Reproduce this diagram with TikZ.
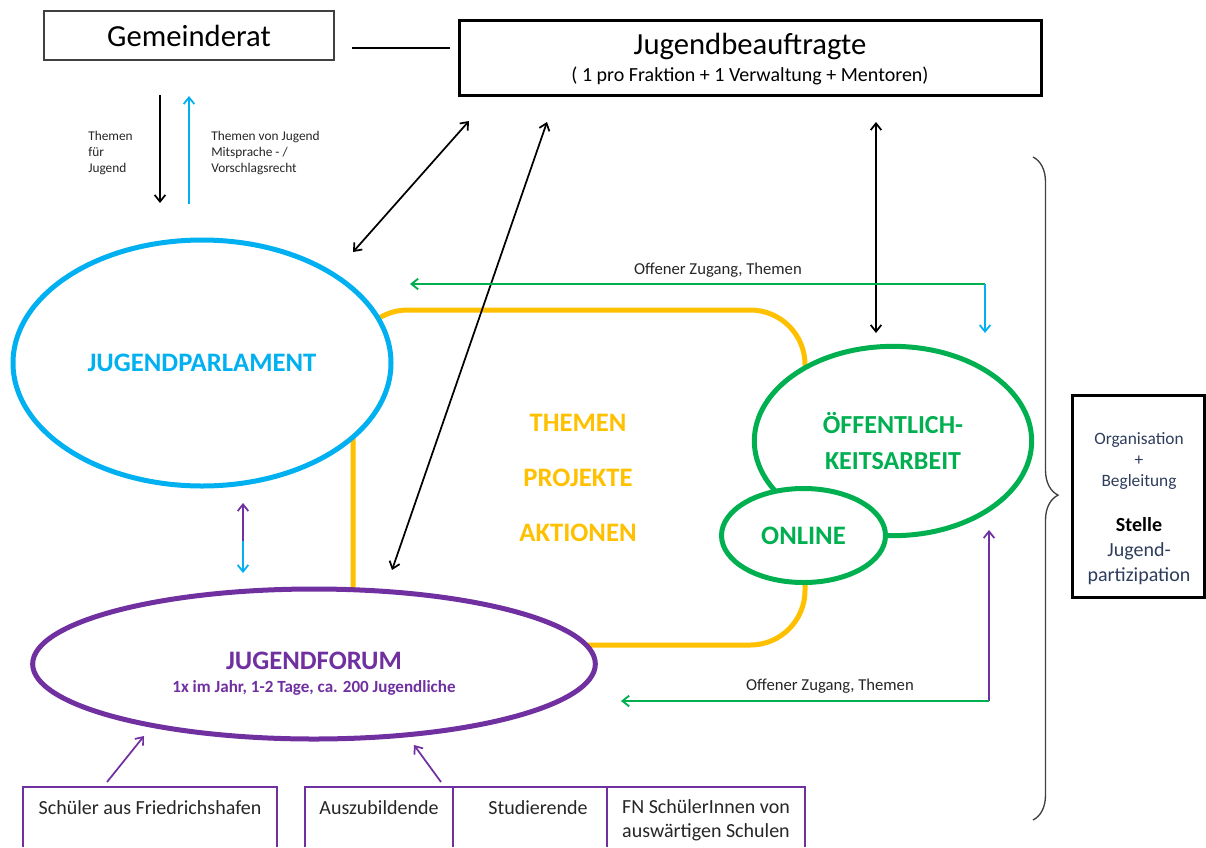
\documentclass[tikz,border=0pt]{standalone}
\usepackage{fontspec}
\setmainfont{Carlito}
\usetikzlibrary{arrows.meta,shapes.geometric,decorations.pathreplacing}
\definecolor{jpblau}{HTML}{00B0F0}
\definecolor{lila}{HTML}{7030A0}
\definecolor{gruen}{HTML}{00B050}
\definecolor{gelb}{HTML}{FFC000}
\definecolor{textgrau}{HTML}{262626}
\definecolor{navy}{HTML}{2E3D5C}
\definecolor{randgrau}{HTML}{404040}
\begin{document}
\begin{tikzpicture}[x=0.75pt,y=-0.75pt,
    pfeil/.style={line width=1.3pt,-{Straight Barb[length=5pt,width=8pt]}},
    dpfeil/.style={line width=1.3pt,{Straight Barb[length=5pt,width=8pt]}-{Straight Barb[length=5pt,width=8pt]}},
    oval/.style={ellipse,draw,line width=3.75pt,fill=white,inner sep=0pt},
    titel/.style={font=\fontsize{20}{24}\selectfont\bfseries},
    klein/.style={font=\fontsize{10}{12}\selectfont,text=textgrau,align=left,anchor=west,inner sep=0pt},
    zugang/.style={font=\fontsize{12.5}{15}\selectfont,text=textgrau},
    unten/.style={font=\fontsize{15}{18}\selectfont,text=textgrau,align=center},
    lilarand/.style={draw=lila,line width=1pt},
    rtext/.style={text=navy,align=center}]
  \fill[white] (0,0) rectangle (1206,847);
  \useasboundingbox (0,0) rectangle (1206,847);

  % Rahmen: Themen, Projekte, Aktionen
  \node[draw=gelb,line width=3.75pt,rounded corners=41pt,minimum width=339pt,
        minimum height=251.25pt] (rahmen) at (579,477.5) {};
  \node[titel,text=gelb,align=center,font=\fontsize{20}{41}\selectfont\bfseries]
        (themen) at (578,478) {THEMEN\\PROJEKTE\\AKTIONEN};

  % Gemeinderat und Jugendbeauftragte
  \node[draw=randgrau,line width=1pt,minimum width=217.5pt,minimum height=36.75pt,
        font=\fontsize{23}{28}\selectfont] (gr) at (189,35.5) {Gemeinderat};
  \node[draw,line width=2.25pt,minimum width=436.5pt,minimum height=56.25pt] (jb) at (750,57.5) {};
  \node[font=\fontsize{23}{28}\selectfont] (jbtitel) at (750,46) {Jugendbeauftragte};
  \node[font=\fontsize{15}{18}\selectfont] (jbsub) at (750,76) {( 1 pro Fraktion + 1 Verwaltung + Mentoren)};
  \coordinate (grR) at (352,48);
  \coordinate (jbL) at (450,48);
  \draw[line width=1.5pt] (grR) -- (jbL);

  % Ellipsen
  \node[oval,draw=jpblau,minimum width=283.5pt,minimum height=184.5pt,titel,text=jpblau]
        (parl) at (202,363) {JUGENDPARLAMENT};
  \node[oval,draw=lila,minimum width=422pt,minimum height=112.5pt] (forum) at (314,664) {};
  \node[titel,text=lila] (forumtitel) at (314,661) {JUGENDFORUM};
  \node[font=\fontsize{12.8}{15}\selectfont\bfseries,text=lila] (forumsub) at (314,688)
        {1x im Jahr, 1-2 Tage, ca. 200 Jugendliche};
  \node[oval,draw=gruen,minimum width=208pt,minimum height=142pt,text=gruen,align=center,
        font=\fontsize{19.5}{27}\selectfont\bfseries] (oef) at (893,441) {ÖFFENTLICH-\\KEITSARBEIT};
  \node[oval,draw=gruen,minimum width=123pt,minimum height=70.5pt,titel,text=gruen]
        (online) at (803.5,535.5) {ONLINE};

  % Gemeinderat <-> Jugendparlament
  \coordinate (grU) at (160,95);
  \coordinate (jpO) at (160,203);
  \draw[pfeil] (grU) -- (jpO);
  \coordinate (jpO2) at (189,204);
  \coordinate (grU2) at (189,96);
  \draw[pfeil,jpblau] (jpO2) -- (grU2);
  \node[klein] (themenfuer) at (88,153) {Themen\\für\\Jugend};
  \node[klein] (themenvon) at (211,153) {Themen von Jugend\\Mitsprache - /\\Vorschlagsrecht};

  % Jugendbeauftragte <-> Gremien
  \coordinate (jbA) at (469,121);
  \coordinate (jpA) at (353,252);
  \draw[dpfeil] (jpA) -- (jbA);
  \coordinate (jbB) at (547,122);
  \coordinate (foB) at (392,570);
  \draw[dpfeil] (foB) -- (jbB);
  \coordinate (jbC) at (876,122);
  \coordinate (oeC) at (876,333);
  \draw[dpfeil] (jbC) -- (oeC);

  % Offener Zugang oben
  \coordinate (zugO) at (985,284);
  \coordinate (jpZ) at (410,284);
  \coordinate (oeZ) at (985,333);
  \draw[pfeil,gruen,line width=1.4pt] (zugO) -- (jpZ);
  \draw[pfeil,jpblau] (zugO) -- (oeZ);
  \node[zugang] (zug1) at (718,270) {Offener Zugang, Themen};

  % Jugendparlament <-> Jugendforum
  \coordinate (mitte) at (243,541);
  \coordinate (jpU) at (243,503);
  \coordinate (foO) at (243,573);
  \draw[pfeil,lila] (mitte) -- (jpU);
  \draw[pfeil,jpblau] (mitte) -- (foO);

  % Offener Zugang unten
  \coordinate (zugU) at (989,701);
  \coordinate (oeU) at (989,530);
  \coordinate (foZ) at (621,701);
  \draw[pfeil,lila] (zugU) -- (oeU);
  \draw[pfeil,gruen,line width=1.4pt] (zugU) -- (foZ);
  \node[zugang] (zug2) at (830,686) {Offener Zugang, Themen};

  % Zielgruppen
  \draw[lilarand] (23,847) |- (277,787) -- (277,847);
  \draw[lilarand] (305,847) |- (805,787) -- (805,847);
  \draw[lilarand] (453,787) -- (453,847) (607,787) -- (607,847);
  \node[unten] (schueler) at (150,808) {Schüler aus Friedrichshafen};
  \node[unten] (azubi) at (379,808) {Auszubildende};
  \node[unten] (studi) at (538,808) {Studierende};
  \node[unten] (fn) at (706,820) {FN SchülerInnen von\\auswärtigen Schulen};
  \coordinate (schA) at (107,782);
  \coordinate (foS) at (144,736);
  \draw[pfeil,lila] (schA) -- (foS);
  \coordinate (azA) at (441,782);
  \coordinate (foA) at (414,745);
  \draw[pfeil,lila] (azA) -- (foA);

  % Stelle Jugendpartizipation
  \draw[randgrau,line width=1pt,decorate,decoration={brace,amplitude=18.75pt,aspect=0.51}]
        (1033,157) -- (1033,820);
  \node[draw,line width=2pt,minimum width=99pt,minimum height=151.5pt] (stelle) at (1138.5,496.5) {};
  \node[rtext,font=\fontsize{13}{15.4}\selectfont] (orga) at (1139,461) {Organisation\\+\\Begleitung};
  \node[rtext,font=\fontsize{15}{19}\selectfont] (stelletxt) at (1139,551)
        {{\color{black}\bfseries Stelle}\\Jugend-\\partizipation};
\end{tikzpicture}
\end{document}
